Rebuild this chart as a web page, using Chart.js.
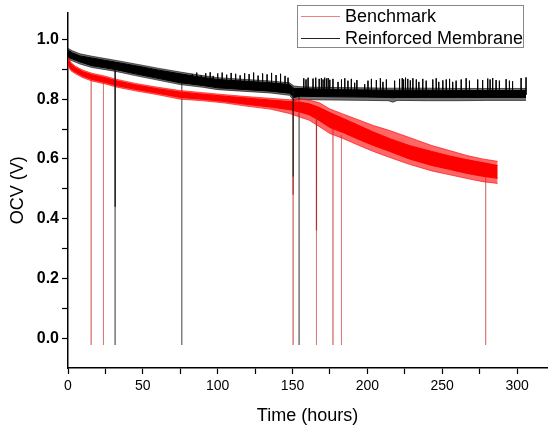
<!DOCTYPE html>
<html>
<head>
<meta charset="utf-8">
<title>OCV vs time</title>
<script src="https://cdn.jsdelivr.net/npm/chart.js@4.4.1/dist/chart.umd.min.js"></script>
<style>
  html, body { margin: 0; padding: 0; background: #fff; }
  #wrap { width: 548px; height: 427px; }
</style>
</head>
<body>
<div id="wrap"><canvas id="ocvChart" width="548" height="427"></canvas></div>
<script>
// Series names
const seriesNames = ['Benchmark', 'Reinforced Membrane'];

// Benchmark trace: dense core and outer noise edges
const benchTime = [0, 2, 5, 10, 16, 25, 32, 45, 60, 75, 90, 105, 119, 135, 148, 155, 161, 168, 175, 184, 193, 204, 215, 228, 243, 255, 266, 277, 287];
const benchHigh = [0.935, 0.918, 0.905, 0.892, 0.882, 0.872, 0.862, 0.848, 0.835, 0.824, 0.817, 0.810, 0.804, 0.797, 0.792, 0.790, 0.785, 0.772, 0.755, 0.735, 0.715, 0.690, 0.668, 0.645, 0.625, 0.610, 0.598, 0.588, 0.578];
const benchLow  = [0.915, 0.900, 0.890, 0.877, 0.866, 0.856, 0.846, 0.833, 0.820, 0.806, 0.800, 0.792, 0.783, 0.774, 0.765, 0.757, 0.748, 0.728, 0.705, 0.688, 0.668, 0.645, 0.625, 0.600, 0.578, 0.565, 0.552, 0.542, 0.535];
const benchOuterHigh = [0.940, 0.923, 0.910, 0.897, 0.887, 0.877, 0.867, 0.853, 0.840, 0.829, 0.822, 0.815, 0.809, 0.803, 0.798, 0.800, 0.797, 0.788, 0.767, 0.750, 0.733, 0.712, 0.695, 0.672, 0.645, 0.628, 0.612, 0.600, 0.592];
const benchOuterLow  = [0.910, 0.895, 0.885, 0.872, 0.861, 0.851, 0.841, 0.828, 0.815, 0.800, 0.795, 0.787, 0.777, 0.767, 0.752, 0.740, 0.730, 0.708, 0.685, 0.668, 0.648, 0.625, 0.605, 0.582, 0.560, 0.547, 0.535, 0.524, 0.518];

// Reinforced membrane trace
const reinfTime = [0, 3, 8, 16, 25, 32, 45, 60, 75, 90, 100, 119, 135, 148, 151, 155, 165, 180, 200, 214, 217, 220, 240, 260, 280, 300, 306];
const reinfHigh = [0.965, 0.955, 0.945, 0.938, 0.930, 0.924, 0.912, 0.898, 0.885, 0.873, 0.866, 0.860, 0.855, 0.849, 0.836, 0.836, 0.834, 0.832, 0.831, 0.830, 0.830, 0.830, 0.830, 0.829, 0.829, 0.829, 0.829];
const reinfLow  = [0.940, 0.935, 0.925, 0.912, 0.905, 0.899, 0.885, 0.870, 0.855, 0.846, 0.838, 0.832, 0.827, 0.820, 0.806, 0.810, 0.809, 0.808, 0.807, 0.806, 0.805, 0.806, 0.806, 0.806, 0.806, 0.806, 0.806];
const reinfOuterHigh = [0.970, 0.962, 0.952, 0.944, 0.936, 0.930, 0.918, 0.904, 0.891, 0.879, 0.872, 0.866, 0.861, 0.855, 0.844, 0.842, 0.840, 0.839, 0.838, 0.837, 0.837, 0.837, 0.837, 0.836, 0.836, 0.836, 0.836];
const reinfOuterLow  = [0.935, 0.928, 0.918, 0.906, 0.899, 0.893, 0.879, 0.864, 0.849, 0.840, 0.832, 0.826, 0.821, 0.813, 0.795, 0.800, 0.798, 0.797, 0.796, 0.795, 0.790, 0.796, 0.795, 0.795, 0.796, 0.796, 0.796];

// Upward spikes of the reinforced membrane trace
const spikeTime = [83, 86, 89, 92, 95, 97, 100, 103, 106, 109, 112, 115, 118, 121, 124, 127, 130, 133, 136, 139, 142, 145, 147,
  157.5, 159, 160.4, 163.7, 165.5, 167.8, 169.3, 170.4, 171.5, 172.7, 173.8, 174.9, 177, 180.4, 182.7, 184.9, 187, 189.3, 191.5, 193,
  198.2, 200.4, 202.7, 206, 208.7, 210.4, 212.7, 218.2, 221.5, 223.3, 224.2, 225.5, 227, 228.7, 230.4, 232.7, 234.4, 237, 239.3,
  243.7, 246, 247.7, 250.4, 252.7, 254.9, 257, 259.3, 262.7, 266, 268.2, 273.7, 277, 280.4, 282, 283.7, 286, 288.2, 292.7, 294.9, 297, 302.7, 306];
const spikeTop = [0.884, 0.889, 0.880, 0.887, 0.890, 0.878, 0.886, 0.889, 0.882, 0.888, 0.885, 0.880, 0.887, 0.884, 0.889, 0.879, 0.886, 0.883, 0.888, 0.881, 0.885, 0.878, 0.872,
  0.870, 0.866, 0.872, 0.869, 0.872, 0.868, 0.871, 0.866, 0.872, 0.869, 0.871, 0.865, 0.868, 0.858, 0.866, 0.870, 0.862, 0.868, 0.855, 0.864,
  0.850, 0.862, 0.868, 0.864, 0.870, 0.858, 0.866, 0.862, 0.868, 0.871, 0.866, 0.872, 0.868, 0.863, 0.870, 0.866, 0.858, 0.868, 0.862,
  0.866, 0.870, 0.858, 0.863, 0.866, 0.868, 0.858, 0.862, 0.866, 0.870, 0.862, 0.866, 0.864, 0.869, 0.866, 0.871, 0.864, 0.862, 0.867, 0.862, 0.860, 0.871, 0.873];

// Measurement interruptions: vertical drops to below zero
const dropFloor = -0.023;
const benchDropTime = [15.5, 23.7, 150.4, 166, 177, 182.7, 279];
const benchDropTop  = [0.870, 0.860, 0.770, 0.740, 0.700, 0.680, 0.550];
const benchDeepTime   = [150.4, 166];
const benchDeepTop    = [0.540, 0.740];
const benchDeepBottom = [0.480, 0.360];
const reinfDropTime = [31.5, 76, 154.4];
const reinfDropTop  = [0.900, 0.860, 0.830];
const reinfDeepTime   = [31.5, 150.4];
const reinfDeepTop    = [0.900, 0.830];
const reinfDeepBottom = [0.440, 0.540];

// Axis ticks
const xTicks = [0, 25, 50, 75, 100, 125, 150, 175, 200, 225, 250, 275, 300];
const yTicks = [0, 0.1, 0.2, 0.3, 0.4, 0.5, 0.6, 0.7, 0.8, 0.9, 1.0];

const FONT = '"Liberation Sans", Arial, sans-serif';

function pts(xs, ys) {
  return xs.map((x, i) => ({ x: x, y: ys[i] }));
}

function vlines(xs, tops, bottoms) {
  const out = [];
  xs.forEach((x, i) => {
    const b = Array.isArray(bottoms) ? bottoms[i] : bottoms;
    out.push({ x: x, y: tops[i] }, { x: x, y: b }, { x: x, y: null });
  });
  return out;
}

// spikes start inside the band, which sits lower after ~150 h
const spikeBase = spikeTime.map(t => (t < 150 ? 0.85 : 0.815));

function lineSet(data, color, width, fill, bg) {
  return {
    data: data,
    showLine: true,
    borderColor: color,
    borderWidth: width,
    backgroundColor: bg || color,
    fill: fill || false,
    pointRadius: 0,
    tension: 0
  };
}

// Legend drawn inside the plot like the original
const boxLegend = {
  id: 'boxLegend',
  afterDraw(chart) {
    const c = chart.ctx;
    c.save();
    c.fillStyle = '#fff';
    c.fillRect(297.5, 5.5, 226, 42);
    c.strokeStyle = '#888';
    c.lineWidth = 1;
    c.strokeRect(297.5, 5.5, 226, 42);
    const colors = ['#f08080', '#222'];
    c.font = '18px ' + FONT;
    c.textBaseline = 'middle';
    seriesNames.forEach((name, i) => {
      const y = 16 + i * 22;
      c.strokeStyle = colors[i];
      c.beginPath();
      c.moveTo(301, y + 0.5);
      c.lineTo(340, y + 0.5);
      c.stroke();
      c.fillStyle = '#000';
      c.fillText(name, 345, y + 1);
    });
    c.restore();
  }
};

new Chart(document.getElementById('ocvChart'), {
  type: 'scatter',
  data: {
    datasets: [
      lineSet(vlines(benchDeepTime, benchDeepTop, benchDeepBottom), '#b03030', 1.2),
      lineSet(vlines(reinfDeepTime, reinfDeepTop, reinfDeepBottom), '#111', 1.2),
      lineSet(pts(benchTime, benchHigh), '#ff0000', 1, '+1', '#ff0000'),
      lineSet(pts(benchTime, benchLow), '#ff0000', 1),
      lineSet(pts(benchTime, benchOuterHigh), 'rgba(255,20,20,0.7)', 1, '+1', 'rgba(255,20,20,0.65)'),
      lineSet(pts(benchTime, benchOuterLow), 'rgba(255,20,20,0.7)', 1),
      lineSet(vlines(spikeTime, spikeTop, spikeBase), 'rgba(0,0,0,0.85)', 1),
      lineSet(pts(reinfTime, reinfHigh), '#000', 1, '+1', '#000'),
      lineSet(pts(reinfTime, reinfLow), '#000', 1),
      lineSet(pts(reinfTime, reinfOuterHigh), 'rgba(0,0,0,0.6)', 1, '+1', 'rgba(0,0,0,0.55)'),
      lineSet(pts(reinfTime, reinfOuterLow), 'rgba(0,0,0,0.6)', 1),
      lineSet(vlines(benchDropTime, benchDropTop, dropFloor), 'rgba(220,120,120,0.7)', 1),
      lineSet(vlines(reinfDropTime, reinfDropTop, dropFloor), 'rgba(120,120,120,0.8)', 1)
    ]
  },
  options: {
    responsive: false,
    animation: false,
    layout: { padding: { top: 11, right: 1, left: 0, bottom: 0 } },
    plugins: {
      legend: { display: false },
      tooltip: { enabled: false }
    },
    scales: {
      x: {
        type: 'linear',
        min: 0,
        max: 320,
        afterBuildTicks: s => { s.ticks = xTicks.map(v => ({ value: v })); },
        afterFit: s => { s.height = 59; },
        border: { color: '#000', width: 1.5 },
        grid: { drawOnChartArea: false, tickLength: 6, tickColor: '#000', tickWidth: 1.2 },
        ticks: {
          color: '#000',
          font: { family: FONT, size: 14 },
          padding: 4,
          maxRotation: 0,
          autoSkip: false,
          callback: v => (v % 50 === 0 ? String(v) : '')
        },
        title: { display: true, text: 'Time (hours)', color: '#000', font: { family: FONT, size: 18 }, padding: { top: 6, bottom: 0 } }
      },
      y: {
        type: 'linear',
        min: -0.1,
        max: 1.09,
        afterBuildTicks: s => { s.ticks = yTicks.map(v => ({ value: v })); },
        afterFit: s => { s.width = 68; },
        border: { color: '#000', width: 1.5 },
        grid: { drawOnChartArea: false, tickLength: 6, tickColor: '#000', tickWidth: 1.2 },
        ticks: {
          color: '#000',
          font: { family: FONT, size: 16, weight: 'bold' },
          padding: 3,
          autoSkip: false,
          callback: v => (Math.round(v * 10) % 2 === 0 ? v.toFixed(1) : '')
        },
        title: { display: true, text: 'OCV (V)', color: '#000', font: { family: FONT, size: 18 }, padding: { top: 7, bottom: 4 } }
      }
    }
  },
  plugins: [boxLegend]
});
</script>
</body>
</html>
